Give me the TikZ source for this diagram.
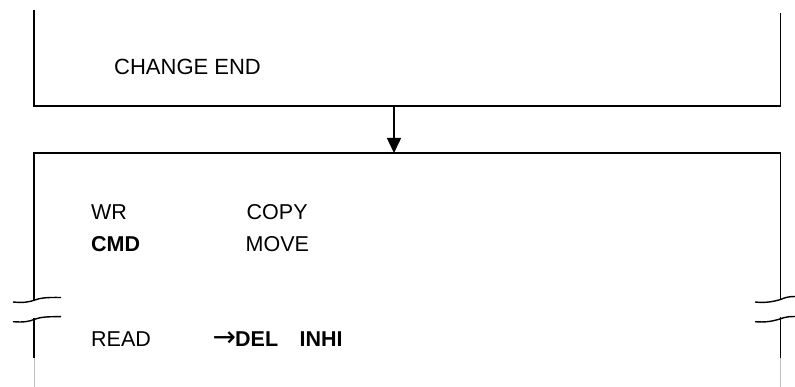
\documentclass[tikz,border=0pt]{standalone}
\usepackage{fontspec}
\setmainfont{Liberation Sans}
\newfontfamily\arrowfont{DejaVu Sans}
\usetikzlibrary{arrows.meta}
\begin{document}
\begin{tikzpicture}[x=1pt,y=-1pt,
  frame/.style={line width=1.5pt},
  brk/.style={line width=1.4pt},
  faint/.style={line width=0.8pt,draw=black!25},
  lbl/.style={anchor=base west,inner sep=0pt,font=\fontsize{21.5}{24}\selectfont},
  blbl/.style={lbl,font=\fontsize{21.5}{24}\selectfont\bfseries},
  flow/.style={line width=1.5pt,-{Triangle[width=14pt,length=15pt]}}]
\useasboundingbox[fill=white] (0,0) rectangle (795,387);
% upper box (top cut off)
\draw[frame] (34,10) -- (34,106) -- (780.5,106) -- (780.5,13);
% lower box (broken)
\draw[frame] (34,300.5) -- (34,153) -- (780.5,153) -- (780.5,299.5);
\draw[frame] (34,318) -- (34,358);
\draw[frame] (780.5,317) -- (780.5,358);
\draw[faint] (34,358) -- (34,387);
\draw[faint] (780.5,358) -- (780.5,387);
% break marks left
\draw[brk] (13,302) .. controls (24,303) and (29,302) .. (34,300.3) .. controls (40,298) and (46,297.2) .. (61,297.5);
\draw[brk] (13,321.7) .. controls (24,322.5) and (29,321.5) .. (34,319.5) .. controls (40,317.2) and (46,316.5) .. (61,316.7);
% break marks right
\draw[brk] (755,302) .. controls (765,303) and (772,302) .. (780.5,299.5) .. controls (785,297.5) and (789,296.5) .. (795,296.5);
\draw[brk] (755,321.7) .. controls (765,322.5) and (772,321.5) .. (780.5,318.8) .. controls (785,317) and (789,316.5) .. (795,316.5);
% connector
\coordinate (src) at (394,106);
\coordinate (dst) at (394,153);
\draw[flow] (src) -- (dst);
% texts
\node[lbl,font=\fontsize{22}{24}\selectfont] (ce) at (114,75) {CHANGE END};
\node[lbl] (wr) at (91,219.3) {WR};
\node[blbl] (cmd) at (91,251.7) {CMD};
\node[lbl] (rd) at (91,346.7) {READ};
\node[lbl] (cp) at (246.5,219.3) {COPY};
\node[lbl] (mv) at (245.5,251.7) {MOVE};
\node[blbl] (del) at (212.5,346.7) {{\arrowfont\fontsize{28}{28}\selectfont\mdseries\raisebox{0.5pt}{→}}\kern-1pt DEL};
\node[blbl] (inhi) at (299.5,346.7) {INHI};
\end{tikzpicture}
\end{document}
